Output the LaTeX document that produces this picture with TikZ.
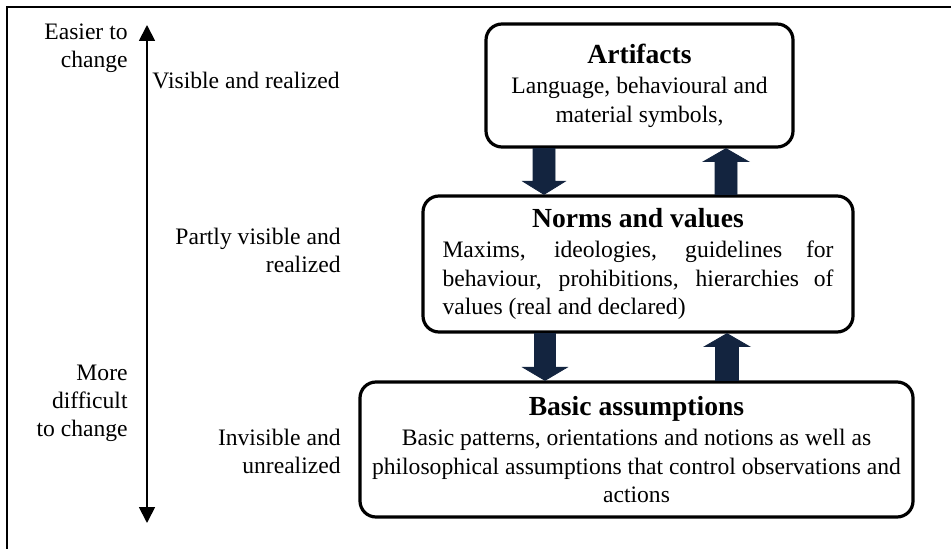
\documentclass[tikz,border=0pt]{standalone}
\usepackage{fontspec}
\setmainfont{Liberation Serif}
\usetikzlibrary{arrows.meta,calc}
\definecolor{navy}{HTML}{13243F}
\tikzset{
  layerbox/.style={draw=black, line width=1.6pt, rounded corners=8pt, fill=white,
    align=center, inner sep=0pt, font=\fontsize{11.8}{14.2}\selectfont},
  sidetext/.style={inner sep=0pt, font=\fontsize{11.8}{14}\selectfont},
  blockarrow/.style={fill=navy, draw=navy, line width=0.4pt, line join=miter},
  scalearrow/.style={line width=0.9pt, {Triangle[width=8pt,length=8pt]}-{Triangle[width=8pt,length=8pt]}}
}
\newcommand{\ttl}[1]{{\bfseries\fontsize{13.8}{15}\selectfont #1}}
\begin{document}
\begin{tikzpicture}[x=0.5pt,y=-0.5pt]
\useasboundingbox (0,0) rectangle (951,549);
% frame
\draw[line width=1.1pt] (7,549) -- (7,7) -- (951,7);

% boxes
\node[layerbox, minimum width=153.5pt, minimum height=61.5pt] (art) at (639.5,85.5)
  {\ttl{Artifacts}\\[1pt] Language, behavioural and\\ material symbols,};
\node[layerbox, minimum width=215pt, minimum height=68pt] (norm) at (638,264)
  {\ttl{Norms and values}\\[1pt]
   \makebox[195.5pt][s]{Maxims, ideologies, guidelines for}\\
   \makebox[195.5pt][s]{behaviour, prohibitions, hierarchies of}\\
   \makebox[195.5pt][l]{values (real and declared)}};
\node[layerbox, minimum width=276.5pt, minimum height=67.5pt] (basic) at (636.5,449.5)
  {\ttl{Basic assumptions}\\[1pt] Basic patterns, orientations and notions as well as\\
   philosophical assumptions that control observations and\\ actions};

% block arrows
% Artifacts -> Norms (down)
\coordinate (d1t) at (art.south -| 544,0);
\coordinate (d1b) at (norm.north -| 544,0);
\fill[blockarrow] ($(d1t)+(-11,0)$) -- ($(d1b)+(-11,-13)$) -- ($(d1b)+(-21,-13)$) -- (d1b)
  -- ($(d1b)+(21,-13)$) -- ($(d1b)+(11,-13)$) -- ($(d1t)+(11,0)$) -- cycle;
% Norms -> Artifacts (up)
\coordinate (u1t) at (art.south -| 726,0);
\coordinate (u1b) at (norm.north -| 726,0);
\fill[blockarrow] ($(u1b)+(-11,0)$) -- ($(u1t)+(-11,13)$) -- ($(u1t)+(-22.5,13)$) -- (u1t)
  -- ($(u1t)+(22.5,13)$) -- ($(u1t)+(11,13)$) -- ($(u1b)+(11,0)$) -- cycle;
% Norms -> Basic (down)
\coordinate (d2t) at (norm.south -| 545,0);
\coordinate (d2b) at (basic.north -| 545,0);
\fill[blockarrow] ($(d2t)+(-10.5,0)$) -- ($(d2b)+(-10.5,-13)$) -- ($(d2b)+(-22,-13)$) -- (d2b)
  -- ($(d2b)+(22,-13)$) -- ($(d2b)+(10.5,-13)$) -- ($(d2t)+(10.5,0)$) -- cycle;
% Basic -> Norms (up)
\coordinate (u2t) at (norm.south -| 727,0);
\coordinate (u2b) at (basic.north -| 727,0);
\fill[blockarrow] ($(u2b)+(-11.5,0)$) -- ($(u2t)+(-11.5,13)$) -- ($(u2t)+(-22.5,13)$) -- (u2t)
  -- ($(u2t)+(22.5,13)$) -- ($(u2t)+(11.5,13)$) -- ($(u2b)+(11.5,0)$) -- cycle;

% scale arrow
\coordinate (stop) at (147,25);
\coordinate (sbot) at (147,523);
\draw[scalearrow] (sbot) -- (stop);

% side texts
\node[sidetext, align=right, anchor=east] (easy) at (128,48) {Easier to\\ change};
\node[sidetext, anchor=west] (vis) at (152,80) {Visible and realized};
\node[sidetext, align=right, anchor=east] (part) at (341,250) {Partly visible and\\ realized};
\node[sidetext, align=right, anchor=east] (hard) at (128,403) {More\\ difficult\\ to change};
\node[sidetext, align=right, anchor=east] (invis) at (341,451) {Invisible and\\ unrealized};
\end{tikzpicture}
\end{document}
